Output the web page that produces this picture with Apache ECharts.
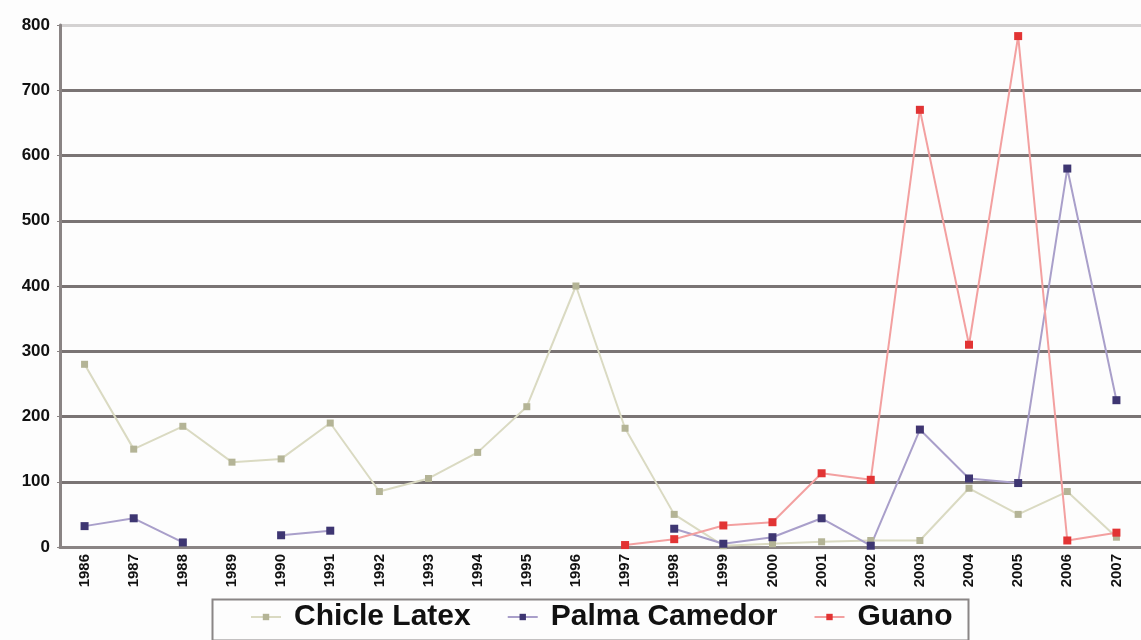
<!DOCTYPE html>
<html>
<head>
<meta charset="utf-8">
<script src="https://cdn.jsdelivr.net/npm/echarts@6/dist/echarts.min.js"></script>
<style>
html,body{margin:0;padding:0;background:#fdfdfd;}
#chart{width:1141px;height:640px;}
</style>
</head>
<body>
<div id="chart"></div>
<script>
const years = ['1986','1987','1988','1989','1990','1991','1992','1993','1994','1995','1996','1997','1998','1999','2000','2001','2002','2003','2004','2005','2006','2007'];
const chicleLatex = [280,150,185,130,135,190,85,105,145,215,400,182,50,2,5,8,10,10,90,50,85,15];
const palmaCamedor = [32,44,7,null,18,25,null,null,null,null,null,null,28,5,15,44,2,180,105,98,580,225];
const guano = [null,null,null,null,null,null,null,null,null,null,null,3,12,33,38,113,103,670,310,783,10,22];

const chart = echarts.init(document.getElementById('chart'));
const font = 'Liberation Sans, Arial, sans-serif';
const gridColors = ['#7a7474','#7a7474','#7a7474','#7a7474','#7a7474','#7a7474','#7a7474','#7a7474','#d4d2d2'];
chart.setOption({
  backgroundColor: '#fdfdfd',
  animation: false,
  grid: {left: 60, right: 0, top: 25, bottom: 93, containLabel: false},
  graphic: [{type: 'rect', left: 210, top: 597, shape: {width: 756, height: 41},
    style: {fill: 'none', stroke: '#8a8686', lineWidth: 2}, z: 10}],
  legend: {
    left: 250, top: 602, padding: 0,
    itemGap: 36, itemWidth: 30, itemHeight: 8,
    textStyle: {fontFamily: font, fontWeight: 'bold', fontSize: 30, color: '#111', padding: [0, 0, 0, 8]},
    data: ['Chicle Latex','Palma Camedor','Guano']
  },
  xAxis: {
    type: 'category', data: years, boundaryGap: true,
    axisLine: {lineStyle: {color: '#8a8484', width: 3}},
    axisTick: {show: false},
    axisLabel: {rotate: 90, fontFamily: font, fontWeight: 'bold', fontSize: 15, color: '#111', margin: 7}
  },
  yAxis: {
    type: 'value', min: 0, max: 800, interval: 100,
    axisLine: {show: true, lineStyle: {color: '#8a8484', width: 3}},
    axisTick: {show: true, length: 3, lineStyle: {color: '#8a8484'}},
    axisLabel: {fontFamily: font, fontWeight: 'bold', fontSize: 17, color: '#111', margin: 10},
    splitLine: {lineStyle: {color: gridColors, width: 3}}
  },
  series: [
    {name: 'Chicle Latex', type: 'line', data: chicleLatex, symbol: 'rect', symbolSize: 7,
     lineStyle: {color: '#dadac2', width: 2}, itemStyle: {color: '#b4b496'}},
    {name: 'Palma Camedor', type: 'line', data: palmaCamedor, symbol: 'rect', symbolSize: 8, connectNulls: false,
     lineStyle: {color: '#a99fca', width: 2}, itemStyle: {color: '#3e3672'}},
    {name: 'Guano', type: 'line', data: guano, symbol: 'rect', symbolSize: 8,
     lineStyle: {color: '#f3a0a0', width: 2}, itemStyle: {color: '#e23434'}}
  ]
});
</script>
</body>
</html>
